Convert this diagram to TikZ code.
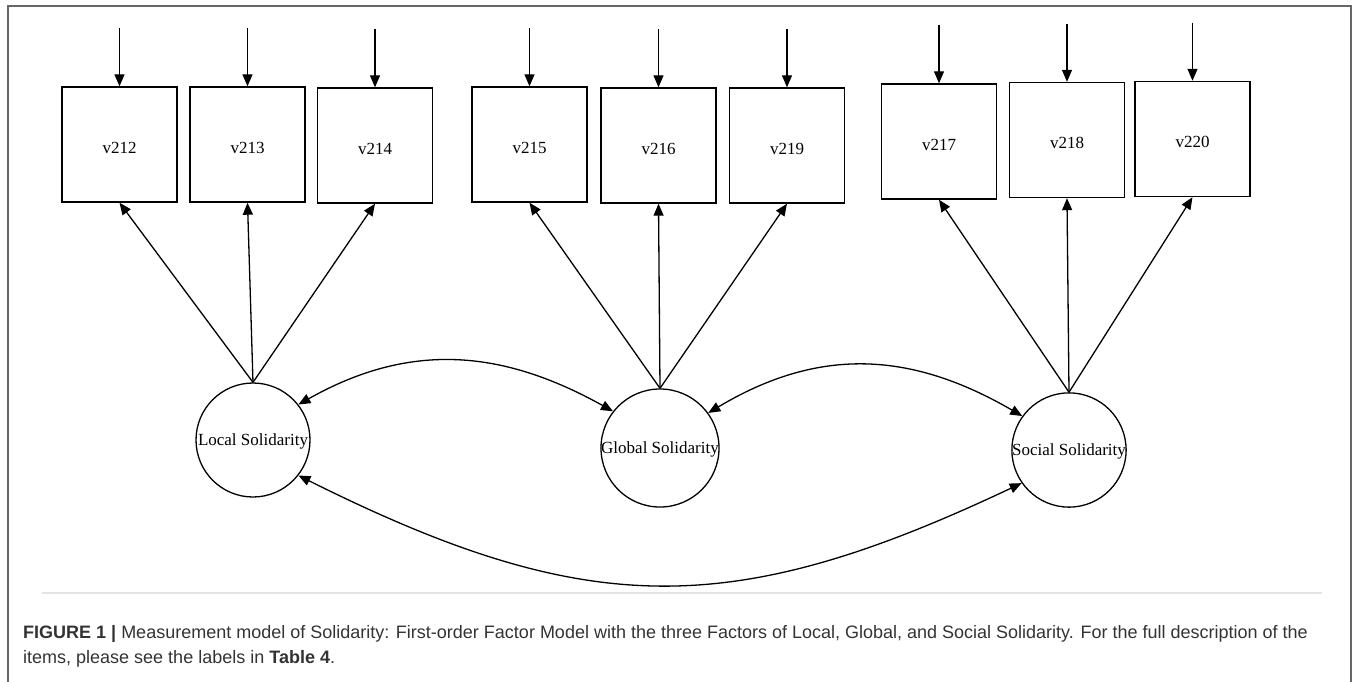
\documentclass[tikz,border=0pt]{standalone}
\usepackage{fontspec}
\setmainfont{Liberation Serif}
\newfontfamily\capfont{Liberation Sans}
\usetikzlibrary{arrows.meta}
\definecolor{capgray}{HTML}{333333}
\definecolor{framegray}{HTML}{666666}
\definecolor{rulegray}{HTML}{E4E4E4}
\newcommand{\itemfont}{\fontsize{17}{20}\selectfont}
\newcommand{\tip}{Triangle[length=12pt,width=10pt]}

\begin{document}
\begin{tikzpicture}[x=1pt,y=-1pt,
	obs/.style={draw,line width=1.4pt,minimum width=115pt,minimum height=115pt,inner sep=0pt,
		text height=17.5pt,text depth=0pt,font=\itemfont},
	lat/.style={draw,circle,line width=1.3pt,minimum size=114pt,inner sep=0pt,text depth=0pt,font=\itemfont},
	load/.style={-{\tip},line width=1.3pt},
	cov/.style={{\tip}-{\tip},line width=1.3pt}]
	\useasboundingbox (0,0) rectangle (1358,681);
	\draw [framegray,line width=1.5pt] (8,690) -- (8,6) -- (1351,6) -- (1351,690);
	%
	\node[obs] (v212) at (119.5,144.5) {v212};
	\node[obs] (v213) at (247.5,144.5) {v213};
	\node[obs] (v214) at (375,145.5) {v214};
	\node[obs] (v215) at (529.5,144.5) {v215};
	\node[obs] (v216) at (658.5,145.5) {v216};
	\node[obs] (v219) at (787,145.5) {v219};
	\node[obs] (v217) at (939,141.5) {v217};
	\node[obs] (v218) at (1067,140) {v218};
	\node[obs] (v220) at (1192.5,139) {v220};
	%
	\node[lat] (local) at (253,440) {Local Solidarity};
	\node[lat] (global) at (660,448) {Global Solidarity};
	\node[lat] (social) at (1069,450) {Social Solidarity};
	%
	\coordinate (e212) at (119.5,28);
	\coordinate (e213) at (247.5,28);
	\coordinate (e214) at (375,29);
	\coordinate (e215) at (529.5,28);
	\coordinate (e216) at (658.5,29);
	\coordinate (e219) at (787,29);
	\coordinate (e217) at (939,25);
	\coordinate (e218) at (1067,23.5);
	\coordinate (e220) at (1192.5,22.5);
	%
	\draw [load] (e212) to (v212);
	\draw [load] (e213) to (v213);
	\draw [load] (e214) to (v214);
	\draw [load] (e215) to (v215);
	\draw [load] (e216) to (v216);
	\draw [load] (e219) to (v219);
	\draw [load] (e217) to (v217);
	\draw [load] (e218) to (v218);
	\draw [load] (e220) to (v220);
	%
	\draw [load] (local.north) to (v212.south);
	\draw [load] (local.north) to (v213.south);
	\draw [load] (local.north) to (v214.south);
	\draw [load] (global.north) to (v215.south);
	\draw [load] (global.north) to (v216.south);
	\draw [load] (global.north) to (v219.south);
	\draw [load] (social.north) to (v217.south);
	\draw [load] (social.north) to (v218.south);
	\draw [load] (social.north) to (v220.south);
	%
	\draw [cov] (local.38) .. controls (411,341) and (503,350) .. (global.142);
	\draw [cov] (global.36) .. controls (820,346) and (912,352) .. (social.144);
	\draw [cov] (local.-38) .. controls (588,620) and (732,620) .. (social.215);
	%
	\draw [rulegray,line width=2pt] (42,593) -- (1322,593);
	\node[anchor=base west,align=left,inner sep=0pt,text=capgray,
		font=\capfont\fontsize{18}{25}\selectfont] (caption) at (23,663)
		{\textbf{FIGURE 1 |} Measurement model of Solidarity: First-order Factor Model with the three Factors of Local, Global, and Social Solidarity. For the full description of the\\
		items, please see the labels in \textbf{Table 4}.};
\end{tikzpicture}
\end{document}
